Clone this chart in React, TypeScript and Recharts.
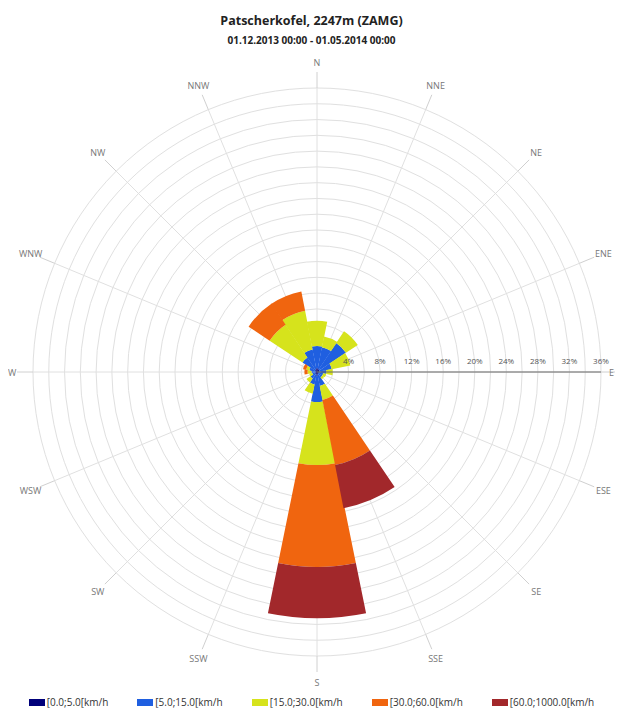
import { RadialBarChart, RadialBar, PolarGrid, PolarAngleAxis, PolarRadiusAxis, Sector } from 'recharts'

// wind directions, clockwise from north
const DIRECTIONS = ['N', 'NNE', 'NE', 'ENE', 'E', 'ESE', 'SE', 'SSE', 'S', 'SSW', 'SW', 'WSW', 'W', 'WNW', 'NW', 'NNW']

// frequency (%) per speed class and direction
const SPEED_0_5 = [0.5, 0.4, 0.4, 0.3, 0.3, 0.2, 0.2, 0.3, 0.5, 0.3, 0.3, 0.2, 0.2, 0.2, 0.3, 0.4]
const SPEED_5_15 = [2.8, 2.8, 4.0, 1.6, 0.9, 0.6, 0.6, 1.5, 3.3, 1.3, 0.7, 0.4, 0.5, 0.8, 1.9, 2.5]
const SPEED_15_30 = [3.2, 1.4, 1.8, 2.4, 0.8, 0.4, 0.3, 1.8, 8.0, 1.2, 0.6, 0.4, 0.5, 0.4, 5.0, 5.0]
const SPEED_30_60 = [0, 0, 0, 0, 0, 0, 0, 8.4, 12.9, 0, 0, 0, 0.4, 0.4, 3.2, 2.5]
const SPEED_60_1000 = [0, 0, 0, 0, 0, 0, 0, 5.6, 6.5, 0, 0, 0, 0, 0, 0, 0]

const RADIUS_TICKS = [0, 2, 4, 6, 8, 10, 12, 14, 16, 18, 20, 22, 24, 26, 28, 30, 32, 34, 36]

const CLASSES = [
  { key: 's1', name: '[0.0;5.0[km/h', color: '#00007a' },
  { key: 's2', name: '[5.0;15.0[km/h', color: '#1f5fe0' },
  { key: 's3', name: '[15.0;30.0[km/h', color: '#d6e31c' },
  { key: 's4', name: '[30.0;60.0[km/h', color: '#f0650f' },
  { key: 's5', name: '[60.0;1000.0[km/h', color: '#a2282b' },
]

const data = DIRECTIONS.map((dir, i) => ({
  dir,
  s1: SPEED_0_5[i],
  s2: SPEED_5_15[i],
  s3: SPEED_15_30[i],
  s4: SPEED_30_60[i],
  s5: SPEED_60_1000[i],
}))

const CHART_W = 607
const CHART_H = 700
const CX = 309
const CY = 364
const FONT = '"Open Sans", sans-serif'

// the angle axis puts its ticks on a band edge; turn each sector by half a band
// so that it sits centred on its compass spoke
function CenteredSector(props: any) {
  const { cx, cy, innerRadius, outerRadius, startAngle, endAngle, fill } = props
  if (Math.abs(outerRadius - innerRadius) < 0.01) return <g />
  const half = Math.abs(endAngle - startAngle) / 2
  return (
    <Sector cx={cx} cy={cy} innerRadius={innerRadius} outerRadius={outerRadius}
      startAngle={startAngle - half} endAngle={endAngle - half} fill={fill} stroke="none" />
  )
}

function DirectionTick(props: any) {
  const { x, y, payload } = props
  const dx = x - CX
  const dy = y - CY
  const d = Math.hypot(dx, dy) || 1
  let lx = x + (dx / d) * 10
  const ly = y + (dy / d) * 10
  let anchor: 'middle' | 'start' | 'end' = 'middle'
  if (lx > CHART_W - 8) { lx = CHART_W - 1; anchor = 'end' }
  if (lx < 6) { lx = 0; anchor = 'start' }
  return (
    <text x={lx} y={ly} textAnchor={anchor} dominantBaseline="central"
      fontSize={9} fontFamily={FONT} fill="#777">
      {payload.value}
    </text>
  )
}

function PercentTick(props: any) {
  const { x, y, payload } = props
  const v = payload.value
  if (v === 0 || v % 4 !== 0) return <g />
  return (
    <text x={x} y={y - 8} textAnchor="middle" fontSize={8} fontFamily={FONT} fill="#555">
      {`${v}%`}
    </text>
  )
}

export default function App() {
  return (
    <div style={{ position: 'relative', width: CHART_W, height: CHART_H + 9, fontFamily: FONT }}>
      <div style={{ position: 'absolute', top: 4, left: 0, width: CHART_W, textAlign: 'center',
        fontSize: 12.5, fontWeight: 700, color: '#222' }}>
        Patscherkofel, 2247m (ZAMG)
      </div>
      <div style={{ position: 'absolute', top: 25, left: 0, width: CHART_W, textAlign: 'center',
        fontSize: 10, fontWeight: 700, color: '#222' }}>
        01.12.2013 00:00 - 01.05.2014 00:00
      </div>
      <RadialBarChart
        width={CHART_W} height={CHART_H} data={data}
        layout="centric" cx={CX} cy={CY} innerRadius={0} outerRadius={284}
        startAngle={90} endAngle={-270}
        barCategoryGap={0} barGap={0}
        margin={{ top: 0, right: 0, bottom: 0, left: 0 }}
      >
        <PolarGrid gridType="circle" stroke="#e0e0e0" />
        <PolarAngleAxis
          dataKey="dir" type="category" axisLine={false}
          tickSize={16} tickLine={{ stroke: '#d0d0d0' }} tick={DirectionTick}
        />
        {CLASSES.map(c => (
          <RadialBar key={c.key} dataKey={c.key} name={c.name} stackId="a"
            fill={c.color} shape={CenteredSector} isAnimationActive={false} />
        ))}
        <PolarRadiusAxis
          type="number" angle={0} domain={[0, 36]} ticks={RADIUS_TICKS}
          axisLine={{ stroke: '#666' }} tickLine={false} tick={PercentTick}
        />
      </RadialBarChart>
      <div style={{ position: 'absolute', top: 687, left: 0, width: CHART_W, display: 'flex',
        justifyContent: 'center', gap: 29, fontSize: 10, color: '#333' }}>
        {CLASSES.map(c => (
          <div key={c.key} style={{ display: 'flex', alignItems: 'center' }}>
            <span style={{ display: 'inline-block', width: 16, height: 7, background: c.color, marginRight: 2 }} />
            {c.name}
          </div>
        ))}
      </div>
    </div>
  )
}
